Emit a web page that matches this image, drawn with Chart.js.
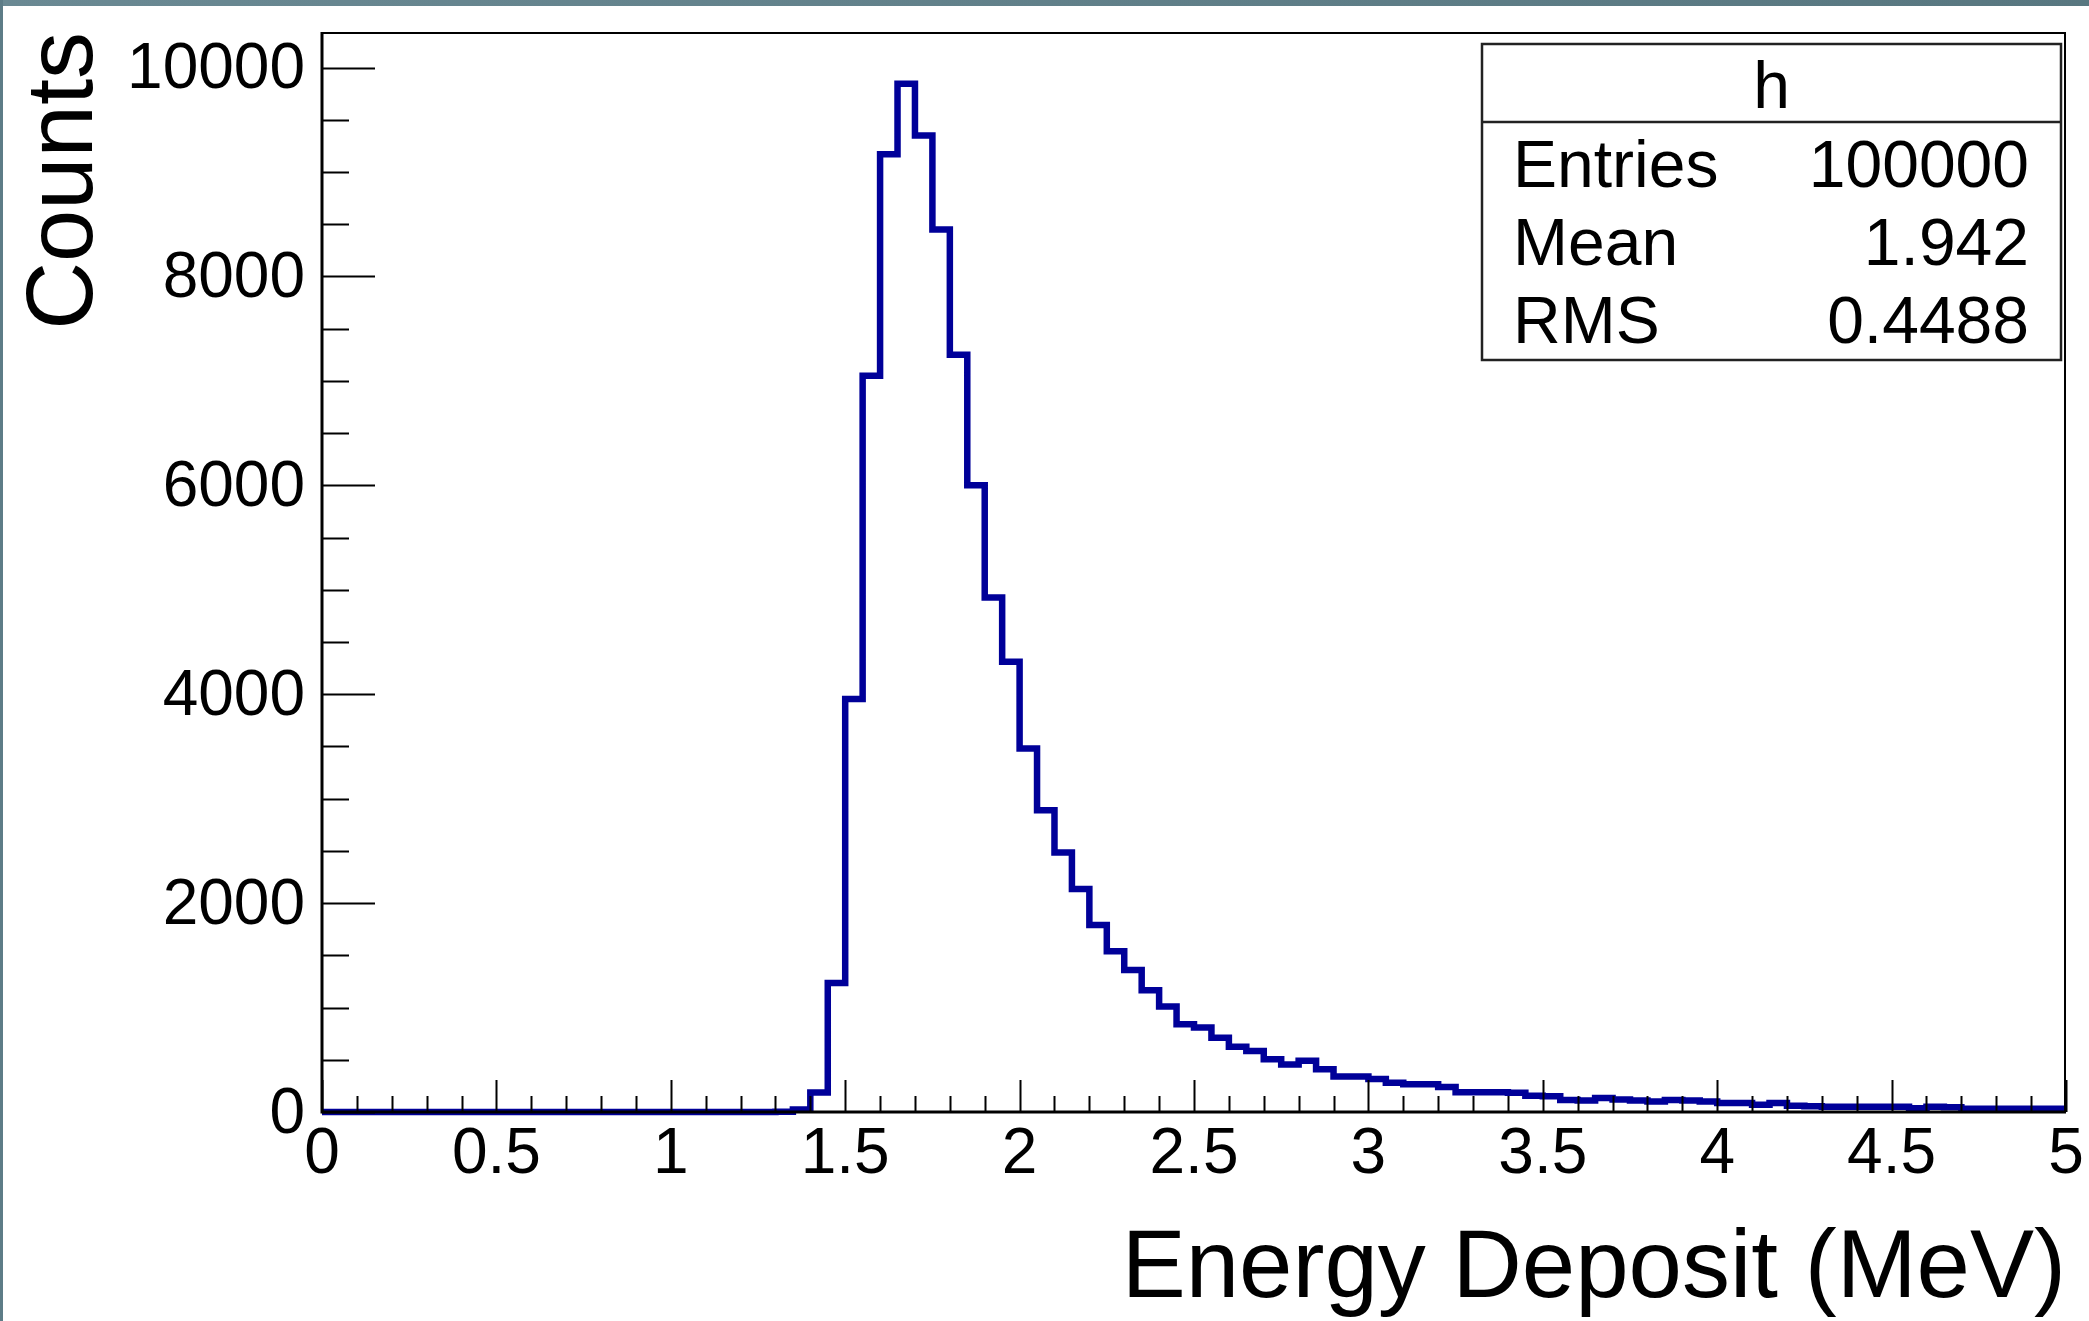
<!DOCTYPE html>
<html><head><meta charset="utf-8">
<script src="https://cdn.jsdelivr.net/npm/chart.js@4.4.1/dist/chart.umd.min.js"></script>
<style>
html,body{margin:0;padding:0;background:#fff;overflow:hidden}
#wrap{position:relative;width:2089px;height:1321px;background:#fff}
#topbar{position:absolute;left:0;top:0;width:2089px;height:6px;background:linear-gradient(90deg,#6a8993,#587780)}
#leftbar{position:absolute;left:0;top:0;width:3px;height:1321px;background:#5d7c87}
canvas{position:absolute;left:0;top:0}
</style></head><body>
<div id="wrap"><canvas id="c" width="2089" height="1321"></canvas><div id="topbar"></div><div id="leftbar"></div></div>
<script>
// ---- data ----
const xMin = 0, xMax = 5, binWidth = 0.05;
const counts = [
  0,0,0,0,0,0,0,0,0,0,            // 0.00 - 0.50
  0,0,0,0,0,0,0,0,0,0,            // 0.50 - 1.00
  0,0,0,0,0,0,3,25,186,1235,      // 1.00 - 1.50
  3955,7050,9170,9845,9350,8450,7250,6000,4925,4310, // 1.50 - 2.00
  3480,2890,2485,2135,1790,1540,1360,1165,1010,840,  // 2.00 - 2.50
  810,710,625,585,505,455,490,410,340,340,           // 2.50 - 3.00
  315,280,265,265,240,190,190,190,185,155,           // 3.00 - 3.50
  150,115,110,135,120,110,100,115,110,100,           // 3.50 - 4.00
  85,85,70,85,60,55,50,50,50,50,                     // 4.00 - 4.50
  50,35,50,45,30,30,30,30,30,30                      // 4.50 - 5.00
];
const xTickValues = [0, 0.5, 1, 1.5, 2, 2.5, 3, 3.5, 4, 4.5, 5];
const xTickLabels = ['0','0.5','1','1.5','2','2.5','3','3.5','4','4.5','5'];
const yTickValues = [0, 2000, 4000, 6000, 8000, 10000];
const yTickLabels = ['0','2000','4000','6000','8000','10000'];
const yMax = 10340;
const xTitle = 'Energy Deposit (MeV)';
const yTitle = 'Counts';
const statsTitle = 'h';
const statsNames = ['Entries','Mean','RMS'];
const statsValues = ['100000','1.942','0.4488'];

// histogram outline points (left bin edges + closing point)
const points = counts.map((c, i) => ({x: xMin + i * binWidth, y: c}));
points.push({x: xMax, y: counts[counts.length - 1]});

const FONT = '"Liberation Sans", Arial, Helvetica, sans-serif';

const rootFrame = {
  id: 'rootFrame',
  afterDatasetsDraw(chart) {
    const {ctx, chartArea: a, scales: {x, y}} = chart;
    ctx.save();
    ctx.strokeStyle = '#000';
    ctx.lineCap = 'butt';
    ctx.lineWidth = 2;
    ctx.beginPath();
    for (let i = 0; i <= 50; i++) {
      const px = Math.round(x.getPixelForValue(i * 0.1)) + 0.5;
      const len = (i % 5 === 0) ? 32 : 16;
      ctx.moveTo(px, a.bottom);
      ctx.lineTo(px, a.bottom - len);
    }
    for (let i = 0; i <= 20; i++) {
      const v = i * 500;
      if (v > yMax) break;
      const py = Math.round(y.getPixelForValue(v)) + 0.5;
      const len = (i % 4 === 0) ? 53 : 27;
      ctx.moveTo(a.left, py);
      ctx.lineTo(a.left + len, py);
    }
    ctx.stroke();
    ctx.lineWidth = 2;
    ctx.beginPath();
    ctx.moveTo(a.left, a.top + 1);
    ctx.lineTo(a.right - 1, a.top + 1);
    ctx.lineTo(a.right - 1, a.bottom);
    ctx.stroke();
    ctx.lineWidth = 3;
    ctx.beginPath();
    ctx.moveTo(a.left, a.top);
    ctx.lineTo(a.left, a.bottom);
    ctx.lineTo(a.right, a.bottom);
    ctx.stroke();
    ctx.restore();
  },
  afterDraw(chart) {
    const ctx = chart.ctx;
    ctx.save();
    const L = 1482, R = 2061, T = 44, B = 360, SEP = 122;
    ctx.fillStyle = '#fff';
    ctx.fillRect(L, T, R - L, B - T);
    ctx.strokeStyle = '#222';
    ctx.lineWidth = 2.5;
    ctx.strokeRect(L, T, R - L, B - T);
    ctx.beginPath();
    ctx.moveTo(L, SEP); ctx.lineTo(R, SEP);
    ctx.stroke();
    ctx.fillStyle = '#000';
    ctx.font = '66px ' + FONT;
    ctx.textBaseline = 'alphabetic';
    ctx.textAlign = 'center';
    ctx.fillText(statsTitle, (L + R) / 2, 108);
    const base = [187, 265, 343];
    statsNames.forEach((n, i) => {
      ctx.textAlign = 'left';
      ctx.fillText(n, 1513, base[i]);
      ctx.textAlign = 'right';
      ctx.fillText(statsValues[i], 2029, base[i]);
    });
    ctx.restore();
  }
};

new Chart(document.getElementById('c'), {
  type: 'line',
  data: {
    datasets: [{
      data: points,
      stepped: 'before',
      borderColor: '#000099',
      borderWidth: 6.5,
      pointRadius: 0,
      fill: false,
      tension: 0,
      borderJoinStyle: 'miter',
      clip: {left: 0, top: 0, right: 0, bottom: 6}
    }]
  },
  options: {
    responsive: false,
    devicePixelRatio: 1,
    animation: false,
    layout: {padding: {left: 0, top: 32, right: 23, bottom: 0}},
    plugins: {legend: {display: false}, tooltip: {enabled: false}},
    scales: {
      x: {
        type: 'linear', min: xMin, max: xMax,
        grid: {display: false, drawTicks: false},
        border: {display: false},
        afterBuildTicks: s => { s.ticks = xTickValues.map(v => ({value: v})); },
        ticks: {
          autoSkip: false, maxRotation: 0,
          padding: 5, color: '#000',
          font: {family: FONT, size: 64, lineHeight: 1.2},
          callback: (v) => xTickLabels[xTickValues.indexOf(v)]
        },
        title: {
          display: true, text: xTitle, align: 'end', color: '#000',
          font: {family: FONT, size: 96, lineHeight: 1},
          padding: {top: 0, bottom: 2}
        },
        afterFit: s => { s.height = 209; }
      },
      y: {
        type: 'linear', min: 0, max: yMax,
        grid: {display: false, drawTicks: false},
        border: {display: false},
        afterBuildTicks: s => { s.ticks = yTickValues.map(v => ({value: v})); },
        ticks: {
          autoSkip: false, labelOffset: 3,
          padding: 17, color: '#000',
          font: {family: FONT, size: 64, lineHeight: 0.2},
          callback: (v) => yTickLabels[yTickValues.indexOf(v)]
        },
        title: {
          display: true, text: yTitle, align: 'end', color: '#000',
          font: {family: FONT, size: 94, lineHeight: 1},
          padding: {top: 19, bottom: 0}
        },
        afterFit: s => { s.width = 322; }
      }
    }
  },
  plugins: [rootFrame]
});
</script>
</body></html>
